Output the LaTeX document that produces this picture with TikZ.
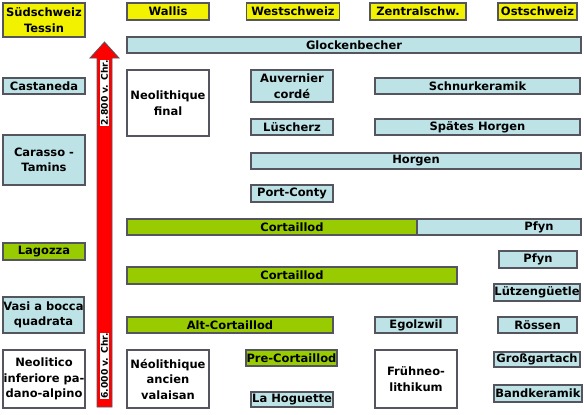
\documentclass[tikz,border=0pt]{standalone}
\usepackage{fontspec}
\setmainfont{DejaVu Sans}
\definecolor{yel}{HTML}{F2F200}
\definecolor{lblue}{HTML}{BDE3E6}
\definecolor{grn}{HTML}{99CC00}
\definecolor{bord}{HTML}{555560}
\tikzset{
 box/.style={draw=bord, line width=1.1pt, inner sep=0pt, align=center, font=\bfseries\fontsize{11.5}{15.5}\selectfont, text=black},
 yb/.style={box, fill=yel},
 bb/.style={box, fill=lblue},
 gb/.style={box, fill=grn},
 wb/.style={box, fill=white},
 lbl/.style={inner sep=0pt, font=\bfseries\fontsize{11.5}{15.5}\selectfont},
 arrlbl/.style={fill=white, inner sep=0.6pt, rotate=90, font=\bfseries\fontsize{9.2}{9.2}\selectfont},
}
\begin{document}
\begin{tikzpicture}[x=1pt,y=-1pt]
\useasboundingbox (0,0) rectangle (584,415);
% header row
\node[yb, minimum width=82pt, minimum height=34pt] (sued) at (44,20) {Südschweiz\\Tessin};
\node[yb, minimum width=82pt, minimum height=17pt] (wallis) at (168,11.5) {Wallis};
\node[yb, minimum width=93pt, minimum height=17pt] (west) at (293,11.5) {Westschweiz};
\node[yb, minimum width=96pt, minimum height=17pt] (zentral) at (418,11.5) {Zentralschw.};
\node[yb, minimum width=79pt, minimum height=17pt] (ost) at (537.5,11.5) {Ostschweiz};
% rows
\node[bb, minimum width=454pt, minimum height=16pt] (glocken) at (354,45) {Glockenbecher};
\node[bb, minimum width=82pt, minimum height=16pt] (castaneda) at (44,86) {Castaneda};
\node[wb, minimum width=82pt, minimum height=66pt] (neofinal) at (168,103) {Neolithique\\final};
\node[bb, minimum width=82pt, minimum height=32pt] (auvernier) at (292,86) {Auvernier\\cordé};
\node[bb, minimum width=205pt, minimum height=16pt] (schnur) at (477.5,86) {Schnurkeramik};
\node[bb, minimum width=82pt, minimum height=16pt] (luescherz) at (292,127) {Lüscherz};
\node[bb, minimum width=205pt, minimum height=16pt] (spaetes) at (477.5,127) {Spätes Horgen};
\node[bb, minimum width=82pt, minimum height=50pt] (carasso) at (44,160) {Carasso -\\Tamins};
\node[bb, minimum width=330pt, minimum height=16pt] (horgen) at (416,161) {Horgen};
\node[bb, minimum width=82pt, minimum height=17pt] (portconty) at (292,193.5) {Port-Conty};
% Cortaillod / Pfyn bar
\node[bb, minimum width=164pt, minimum height=16pt] (pfynbar) at (499,227) {};
\node[gb, minimum width=290pt, minimum height=16pt] (cortbar) at (272,227) {};
\node[lbl] (cortlbl) at (292,227) {Cortaillod};
\node[lbl] (pfynlbl) at (539,227) {Pfyn};
\node[gb, minimum width=82pt, minimum height=17pt] (lagozza) at (44,251.5) {Lagozza};
\node[bb, minimum width=78pt, minimum height=17pt] (pfyn2) at (538,259.5) {Pfyn};
\node[gb, minimum width=330pt, minimum height=17pt] (cort2) at (292,275.5) {Cortaillod};
\node[bb, minimum width=86pt, minimum height=17pt] (luetzen) at (537,292.5) {Lützengüetle};
\node[bb, minimum width=81pt, minimum height=36pt] (vasi) at (43.5,315) {Vasi a bocca\\quadrata};
\node[gb, minimum width=206pt, minimum height=16pt] (altcort) at (230,325) {Alt-Cortaillod};
\node[bb, minimum width=82pt, minimum height=16pt] (egolzwil) at (416,325) {Egolzwil};
\node[bb, minimum width=79pt, minimum height=16pt] (roessen) at (537.5,325) {Rössen};
\node[wb, minimum width=82pt, minimum height=58pt] (neolitico) at (44,379) {Neolitico\\inferiore pa-\\dano-alpino};
\node[wb, minimum width=82pt, minimum height=58pt] (valaisan) at (168,379) {Néolithique\\ancien\\valaisan};
\node[gb, minimum width=91pt, minimum height=16pt] (precort) at (291.5,358) {Pre-Cortaillod};
\node[bb, minimum width=82pt, minimum height=15pt] (hoguette) at (292,399.5) {La Hoguette};
\node[wb, minimum width=82pt, minimum height=58pt] (fruehneo) at (416,379) {Frühneo-\\lithikum};
\node[bb, minimum width=86pt, minimum height=15pt] (gross) at (537,359.5) {Großgartach};
\node[bb, minimum width=88pt, minimum height=17pt] (band) at (538,393.5) {Bandkeramik};
% time arrow
\draw[fill=red, draw=bord, line width=0.8pt] (97,407) -- (97,58) -- (90,58) -- (104.5,42) -- (119,58) -- (112,58) -- (112,407) -- cycle;
\node[arrlbl] (t2800) at (104.5,93) {2.800 v. Chr.};
\node[arrlbl] (t6000) at (104.5,366) {6.000 v. Chr.};
\end{tikzpicture}
\end{document}
